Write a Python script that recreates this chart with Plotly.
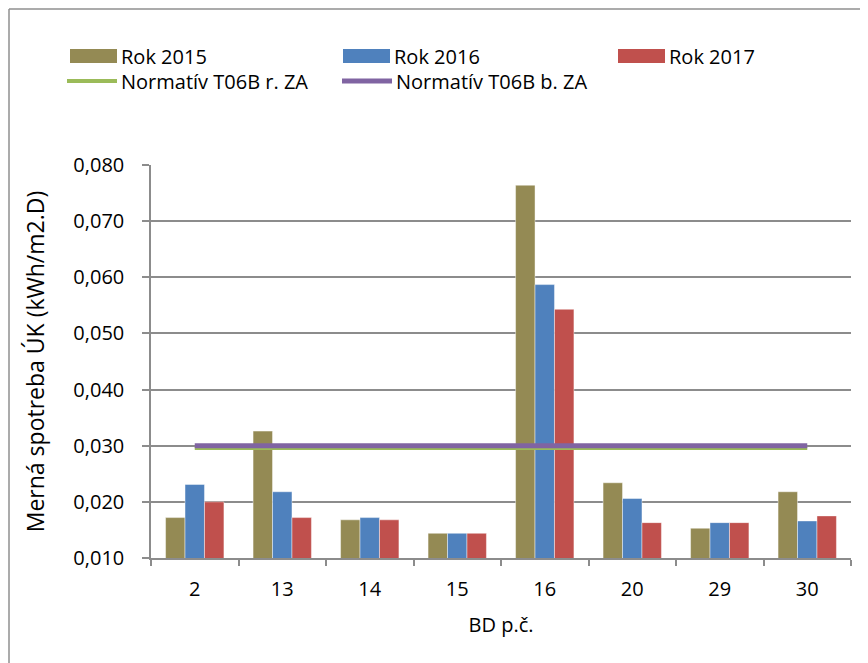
import plotly.graph_objects as go

# ---- data ----
categories = ["2", "13", "14", "15", "16", "20", "29", "30"]
rok_2015 = [0.0172, 0.0326, 0.0168, 0.0144, 0.0764, 0.0234, 0.0153, 0.0218]
rok_2016 = [0.0231, 0.0218, 0.0172, 0.0144, 0.0587, 0.0206, 0.0163, 0.0166]
rok_2017 = [0.0200, 0.0172, 0.0168, 0.0144, 0.0543, 0.0163, 0.0163, 0.0175]
norm_r_za = [0.0296] * len(categories)
norm_b_za = [0.0300] * len(categories)
y_ticks = [0.010, 0.020, 0.030, 0.040, 0.050, 0.060, 0.070, 0.080]

bar_names = ["Rok 2015", "Rok 2016", "Rok 2017"]
line_names = ["Normatív T06B r. ZA", "Normatív T06B b. ZA"]

# ---- style ----
OFF = 8  # page body margin
W, H = 868 - OFF, 663 - OFF
L, R, T, B = 151 - OFF, 17, 165 - OFF, 105
FONT = "Open Sans"
c_olive, c_blue, c_red = "#948A54", "#4F81BD", "#C0504D"
c_green, c_purple = "#9BBB59", "#8064A2"
grid = "#8C8C8C"

fig = go.Figure()
for name, vals, col in zip(bar_names, [rok_2015, rok_2016, rok_2017], [c_olive, c_blue, c_red]):
    fig.add_trace(go.Bar(x=categories, y=vals, name=name, marker_color=col,
                         marker_line=dict(color="rgba(255,255,255,0.55)", width=0.8),
                         showlegend=False))
fig.add_trace(go.Scatter(x=categories, y=norm_r_za, mode="lines", name=line_names[0],
                         line=dict(color=c_green, width=4), showlegend=False))
fig.add_trace(go.Scatter(x=categories, y=norm_b_za, mode="lines", name=line_names[1],
                         line=dict(color=c_purple, width=5), showlegend=False))

pw, ph = W - L - R, H - T - B
def px(x):  # page pixel -> paper
    return (x - OFF - L) / pw
def py(y):
    return (H - B - (y - OFF)) / ph

shapes = []
annotations = []
# manual legend
leg_bars = [(70, 56, c_olive, bar_names[0]), (343, 56, c_blue, bar_names[1]), (618, 56, c_red, bar_names[2])]
for x0, yc, col, name in leg_bars:
    shapes.append(dict(type="rect", xref="paper", yref="paper", x0=px(x0), x1=px(x0 + 47),
                       y0=py(yc + 7), y1=py(yc - 7), fillcolor=col, line=dict(width=0)))
    annotations.append(dict(xref="paper", yref="paper", x=px(x0 + 49), y=py(yc), text=name,
                            showarrow=False, xanchor="left", yanchor="middle",
                            font=dict(family=FONT, size=20, color="#000")))
leg_lines = [(67, 81, c_green, 4, line_names[0]), (342, 81, c_purple, 5, line_names[1])]
for x0, yc, col, wdt, name in leg_lines:
    shapes.append(dict(type="line", xref="paper", yref="paper", x0=px(x0), x1=px(x0 + 50),
                       y0=py(yc), y1=py(yc), line=dict(color=col, width=wdt)))
    annotations.append(dict(xref="paper", yref="paper", x=px(x0 + 52), y=py(yc), text=name,
                            showarrow=False, xanchor="left", yanchor="middle",
                            font=dict(family=FONT, size=20, color="#000")))
# chart border (left + top)
shapes.append(dict(type="line", xref="paper", yref="paper", x0=px(9), x1=px(9), y0=py(9), y1=py(663),
                   line=dict(color="#8F8F8F", width=1.5)))
shapes.append(dict(type="line", xref="paper", yref="paper", x0=px(9), x1=px(868), y0=py(9), y1=py(9),
                   line=dict(color="#8F8F8F", width=1.5)))

fig.update_layout(
    width=W, height=H, margin=dict(l=L, r=R, t=T, b=B, pad=0),
    paper_bgcolor="white", plot_bgcolor="white",
    barmode="group", bargap=0.333, bargroupgap=0,
    separators=", ",
    font=dict(family=FONT, size=20, color="#000"),
    shapes=shapes, annotations=annotations,
    xaxis=dict(type="category", showgrid=False, showline=True, linecolor=grid, linewidth=1.5,
               ticks="outside", ticklen=6, tickcolor=grid, tickwidth=1.5, tickson="boundaries",
               ticklabelstandoff=12,
               title=dict(text="BD p.č.", font=dict(family=FONT, size=20), standoff=17),
               tickfont=dict(family=FONT, size=20)),
    yaxis=dict(range=[0.010, 0.080], tickvals=y_ticks, tickformat=".3f",
               showgrid=True, gridcolor=grid, gridwidth=1.5,
               showline=True, linecolor=grid, linewidth=1.5,
               ticks="outside", ticklen=7, tickcolor=grid, tickwidth=1.5,
               ticklabelstandoff=14, zeroline=False,
               title=dict(text="Merná spotreba ÚK (kWh/m2.D)", font=dict(family=FONT, size=23), standoff=22),
               tickfont=dict(family=FONT, size=20)),
)

fig.write_html("out.html")
